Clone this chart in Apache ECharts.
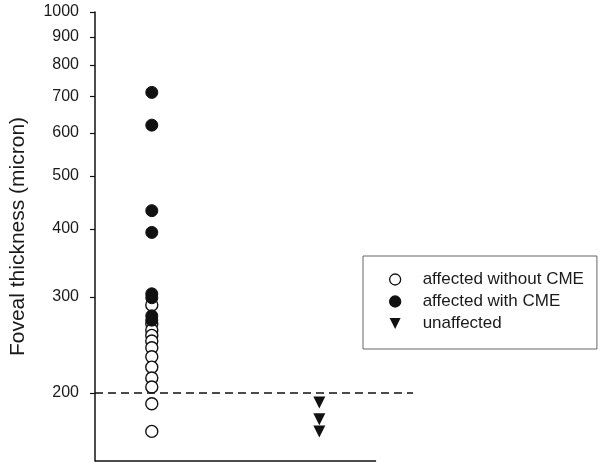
<!DOCTYPE html>
<html>
<head>
<meta charset="utf-8">
<title>Foveal thickness</title>
<script src="https://cdn.jsdelivr.net/npm/echarts@6/dist/echarts.min.js"></script>
<style>
    html, body { margin: 0; padding: 0; background: #fff; }
    #chart_1 { width: 602px; height: 467px; }
</style>
</head>
<body>
<div id="chart_1"></div>
<script>
// values (micron)
var withoutCME = [290, 268, 261, 255, 249, 242, 233, 223, 213, 205, 191, 170];
var withCME = [712, 620, 432, 394, 304, 299, 277, 272];
var unaffected = [192, 179, 170];
var yTicks = [200, 300, 400, 500, 600, 700, 800, 900, 1000];
var groupX = [1, 3.95];
var cutoff = 200;
var yMin = 150, yMax = 1000;
var xMax = 5.6, xLineEnd = 4.95;

window.addEventListener('load', function () {
    var h = echarts.init(document.getElementById('chart_1'));
    var font = "'Liberation Sans', Arial, sans-serif";
    var lg = function (v) { return Math.log10(v); };

    var pts = function (x, arr) {
        var out = [];
        for (var i = 0; i < arr.length; i++) {
            out.push([x, lg(arr[i])]);
        }
        return out;
    };

    var option = {
        backgroundColor: '#fff',
        animation: false,
        grid: { left: 93, top: 12, right: 189, bottom: 6 },
        legend: {
            orient: 'vertical',
            left: 363,
            top: 256,
            padding: [15, 13, 17, 26],
            itemGap: 5,
            itemWidth: 45,
            itemHeight: 11,
            borderColor: '#666',
            borderWidth: 1,
            itemStyle: { borderWidth: 1.3 },
            textStyle: { fontFamily: font, fontSize: 17, color: '#1a1a1a', lineHeight: 16 },
            data: ['affected without CME', 'affected with CME', 'unaffected']
        },
        xAxis: { type: 'value', min: 0, max: xMax, show: false },
        yAxis: {
            type: 'value',
            min: lg(yMin),
            max: lg(yMax),
            name: 'Foveal thickness (micron)',
            nameLocation: 'middle',
            nameGap: 66,
            nameTextStyle: { fontFamily: font, fontSize: 21, color: '#1a1a1a' },
            splitLine: { show: false },
            axisLine: { show: true, lineStyle: { color: '#111', width: 1.5 } },
            axisTick: {
                show: true,
                length: 5,
                customValues: yTicks.map(lg),
                lineStyle: { color: '#111', width: 1.2 }
            },
            axisLabel: {
                customValues: yTicks.map(lg),
                margin: 16,
                fontFamily: font,
                fontSize: 16,
                color: '#1a1a1a',
                formatter: function (v) { return String(Math.round(Math.pow(10, v))); }
            }
        },
        series: [{
            name: 'affected without CME',
            type: 'scatter',
            clip: false,
            symbol: 'circle',
            symbolSize: 12,
            itemStyle: { color: '#fff', borderColor: '#111', borderWidth: 1.4, opacity: 1 },
            data: pts(groupX[0], withoutCME),
            markLine: {
                silent: true,
                symbol: ['none', 'none'],
                label: { show: false },
                data: [
                    [{ coord: [0, lg(cutoff)], lineStyle: { color: '#111', width: 1.5, type: [8, 5] } },
                     { coord: [xMax, lg(cutoff)] }],
                    [{ coord: [0, lg(yMin)], lineStyle: { color: '#111', width: 1.5, type: 'solid' } },
                     { coord: [xLineEnd, lg(yMin)] }]
                ]
            }
        }, {
            name: 'affected with CME',
            type: 'scatter',
            symbol: 'circle',
            symbolSize: 12,
            itemStyle: { color: '#111', borderColor: '#111', opacity: 1 },
            data: pts(groupX[0], withCME)
        }, {
            name: 'unaffected',
            type: 'scatter',
            symbol: 'path://M0,0 L10,0 L5,10 Z',
            symbolSize: [12, 12],
            itemStyle: { color: '#111', opacity: 1 },
            data: pts(groupX[1], unaffected)
        }]
    };
    h.setOption(option);
    window.addEventListener('resize', function () {
        h.resize();
    });
});
</script>
</body>
</html>
